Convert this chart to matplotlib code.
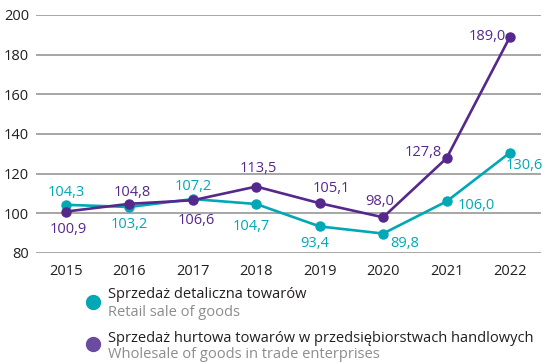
import matplotlib
matplotlib.use("Agg")
import matplotlib.pyplot as plt
from matplotlib.lines import Line2D

plt.rcParams['font.family'] = ['Open Sans', 'DejaVu Sans']

years = [2015, 2016, 2017, 2018, 2019, 2020, 2021, 2022]
retail = [104.3, 103.2, 107.2, 104.7, 93.4, 89.8, 106.0, 130.6]
wholesale = [100.9, 104.8, 106.6, 113.5, 105.1, 98.0, 127.8, 189.0]
retail_labels = ["104,3", "103,2", "107,2", "104,7", "93,4", "89,8", "106,0", "130,6"]
wholesale_labels = ["100,9", "104,8", "106,6", "113,5", "105,1", "98,0", "127,8", "189,0"]
y_ticks = [80, 100, 120, 140, 160, 180, 200]

# label offsets in pixels (dx, dy), dy positive = upward
retail_off = [(0, 12), (0, -18), (0, 13), (-5, -22), (-5, -17), (22, -10), (30, -4), (14, -13)]
wholesale_off = [(2, -18), (3, 11), (3, -20), (2, 18), (12, 15), (-3, 16), (-23, 6), (-23, 0)]

TEAL = "#00A8B5"
PURPLE = "#55288C"
TEXT = "#231F20"
GRID = "#A6A6A6"
FS = 10.5

W, H = 547, 364
fig = plt.figure(figsize=(W / 100, H / 100), dpi=100)
ax = fig.add_axes([36 / W, 1 - 253 / H, 505 / W, 238 / H])

ax.set_xlim(2014.527, 2022.489)
ax.set_ylim(80, 200)
ax.set_yticks(y_ticks)
ax.set_xticks(years)
ax.yaxis.grid(True, color=GRID, linewidth=1.4)
ax.set_axisbelow(True)
for s in ax.spines.values():
    s.set_visible(False)
ax.tick_params(length=0, labelsize=FS, colors=TEXT)
ax.tick_params(axis='y', pad=5)
ax.tick_params(axis='x', pad=8)

ax.plot(years, retail, color=TEAL, lw=1.9, marker='o', ms=6.5, zorder=3, clip_on=False)
ax.plot(years, wholesale, color=PURPLE, lw=1.9, marker='o', ms=6.5, zorder=4, clip_on=False)

for x, y, t, (dx, dy) in zip(years, retail, retail_labels, retail_off):
    ax.annotate(t, (x, y), xytext=(dx, dy), textcoords='offset pixels',
                ha='center', va='center', color=TEAL, fontsize=FS)
for x, y, t, (dx, dy) in zip(years, wholesale, wholesale_labels, wholesale_off):
    ax.annotate(t, (x, y), xytext=(dx, dy), textcoords='offset pixels',
                ha='center', va='center', color=PURPLE, fontsize=FS)

# legend
legend_items = [
    ("Sprzedaż detaliczna towarów", "Retail sale of goods", TEAL, 302, 295, 313),
    ("Sprzedaż hurtowa towarów w przedsiębiorstwach handlowych",
     "Wholesale of goods in trade enterprises", "#6A4BA0", 344, 338, 355),
]
for pl, en, col, cy, y1, y2 in legend_items:
    fig.add_artist(Line2D([93 / W], [1 - cy / H], marker='o', ms=10, color=col,
                          linestyle='none', transform=fig.transFigure))
    fig.text(108 / W, 1 - y1 / H, pl, color=TEXT, fontsize=FS, va='center', ha='left')
    fig.text(108 / W, 1 - y2 / H, en, color="#8C8C8C", fontsize=FS, va='center', ha='left')

fig.savefig("out.png", dpi=100)
